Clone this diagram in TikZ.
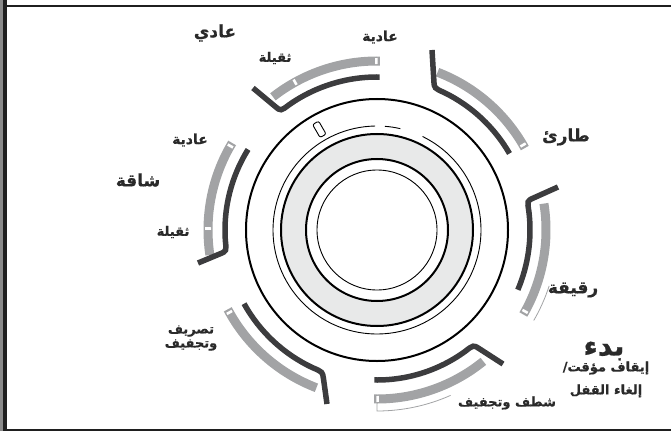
\documentclass[tikz,border=0pt]{standalone}
\usepackage{fontspec}
\usetikzlibrary{calc}
\TeXXeTstate=1
\newfontfamily\arfont[Script=Arabic,BoldFeatures={FakeBold=0.6}]{DejaVu Sans}
\definecolor{dk}{HTML}{3C3C3E}
\definecolor{gr}{HTML}{A2A3A5}
\definecolor{ringfill}{HTML}{E8E9E9}
\definecolor{txt}{HTML}{2A2A2A}
\definecolor{frameg}{HTML}{8A8A8A}
\newcommand{\AR}[1]{\beginR #1\endR}
\begin{document}
\begin{tikzpicture}[x=1pt,y=1pt,
  darkarc/.style={draw=dk,line width=5.5pt},
  grayarc/.style={draw=gr,line width=9pt},
  leader/.style={draw=gr,line width=0.8pt},
  mk/.style={fill=white,draw=none,minimum width=2.6pt,minimum height=6pt,inner sep=0pt},
  big/.style={text=txt,font=\arfont\bfseries\fontsize{17}{18}\selectfont,inner sep=0pt},
  small/.style={text=txt,font=\arfont\bfseries\fontsize{13}{14}\selectfont,inner sep=0pt,align=center}]
\useasboundingbox (-377,-201) rectangle (294,230);
% frame
\fill[frameg] (-377,-201) rectangle (-373.7,230);
\fill[black!88] (-373.7,-201) rectangle (-370.3,230);
\draw[black!88,line width=2.3pt] (-372,223.8) -- (294,223.8);
\draw[black!88,line width=2pt] (-372,-200) -- (294,-200);
% dial
\coordinate (C) at (0,0);
\fill[ringfill,even odd rule] (C) circle[radius=96] (C) circle[radius=71];
\draw[black,line width=2pt] (C) circle[radius=96];
\draw[black,line width=2pt] (C) circle[radius=71];
\draw[black,line width=0.9pt] (C) circle[radius=60];
\draw[black,line width=2pt] (C) circle[radius=131];
\draw[black,line width=0.9pt] (91:104) arc[start angle=91,end angle=424,radius=104];
\draw[black,line width=0.9pt] (77:104) arc[start angle=77,end angle=85.6,radius=104];
\node[draw=black,line width=0.9pt,rounded corners=2pt,minimum width=7pt,minimum height=15pt,inner sep=0pt,rotate=30] (win) at (119.8:116) {};
% gray arcs
\draw[grayarc] (89:169) arc[start angle=89,end angle=128,radius=169];
\draw[grayarc] (29:169) arc[start angle=29,end angle=69,radius=169];
\draw[grayarc] (-30:169) arc[start angle=-30,end angle=9,radius=169];
\draw[grayarc] (-91:169) arc[start angle=-91,end angle=-51,radius=169];
\draw[grayarc] (-152:169) arc[start angle=-152,end angle=-111,radius=169];
\draw[grayarc] (149:169) arc[start angle=149,end angle=188.5,radius=169];
% markers
\foreach \a in {90.2,119,30.2,-28.8,-89.8,-150.8,150.2,179.5}
  \node[mk,rotate=\a-90] at (\a:169) {};
% dark arcs with hooks
\coordinate (h1) at (-124,142);
\coordinate (h2) at (55,180);
\coordinate (h3) at (181,43);
\coordinate (h4) at (126,-134);
\coordinate (h5) at (-50,-174);
\coordinate (h6) at (-179,-33);
\draw[darkarc] (89:153) arc[start angle=89,end angle=125,radius=153] .. controls (129:153) .. ($(129:153)!7pt!(h1)$) -- (h1);
\draw[darkarc] (30:153) arc[start angle=30,end angle=64,radius=153] .. controls (68:153) .. ($(68:153)!7pt!(h2)$) -- (h2);
\draw[darkarc] (-23:153) arc[start angle=-23,end angle=7,radius=153] .. controls (11:153) .. ($(11:153)!7pt!(h3)$) -- (h3);
\draw[darkarc] (-91:150) arc[start angle=-91,end angle=-54,radius=150] .. controls (-50:150) .. ($(-50:150)!7pt!(h4)$) -- (h4);
\draw[darkarc] (-151:152) arc[start angle=-151,end angle=-115,radius=152] .. controls (-111:152) .. ($(-111:152)!7pt!(h5)$) -- (h5);
\draw[darkarc] (148:152) arc[start angle=148,end angle=184,radius=152] .. controls (188:152) .. ($(188:152)!7pt!(h6)$) -- (h6);
% leaders
\draw[leader] (-30:181) arc[start angle=-30,end angle=-18,radius=181];
\draw[leader] (-90:173) -- (-90:181) arc[start angle=-90,end angle=-66,radius=181];
% labels
\node[big] (t1) at (-162,197) {\AR{عادي}};
\node[small] (t2) at (-102,172) {\AR{ثقيلة}};
\node[small,font=\arfont\bfseries\fontsize{14}{15}\selectfont] (t3) at (3,193) {\AR{عادية}};
\node[big] (t4) at (189,93) {\AR{طارئ}};
\node[small,font=\arfont\bfseries\fontsize{14}{15}\selectfont] (t5) at (-187,90) {\AR{عادية}};
\node[big] (t6) at (-239,50) {\AR{شاقة}};
\node[small] (t7) at (-204,-2) {\AR{ثقيلة}};
\node[small] (t8) at (-186,-108) {\AR{تصريف}\\\AR{وتجفيف}};
\node[big] (t9) at (196,-60) {\AR{رقيقة}};
\node[big,font=\arfont\bfseries\fontsize{28}{28}\selectfont] (t10) at (227,-121) {\AR{بدء}};
\node[small] (t11) at (229,-138) {\AR{إيقاف مؤقت/}};
\node[small] (t12) at (229,-161) {\AR{إلغاء القفل}};
\node[small] (t13) at (130,-173) {\AR{شطف وتجفيف}};
\end{tikzpicture}
\end{document}
